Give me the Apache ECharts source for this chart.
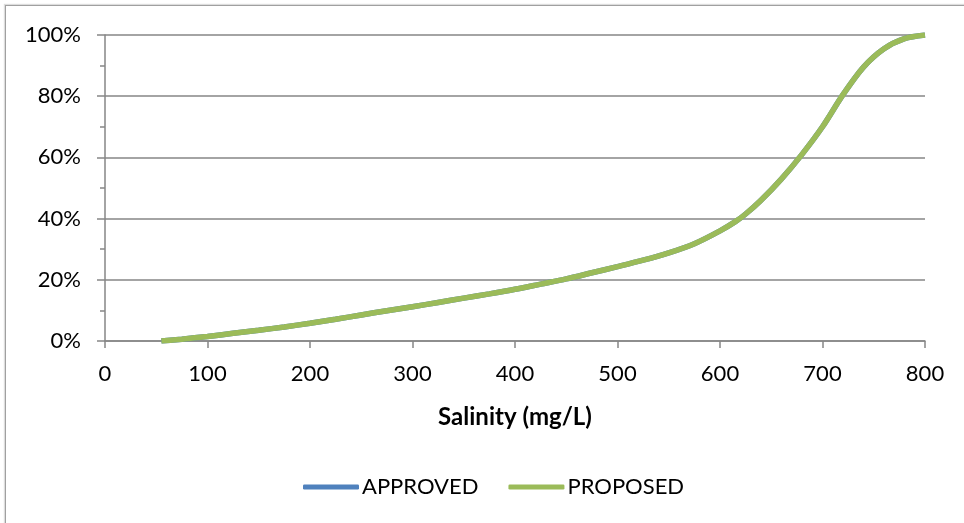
<!DOCTYPE html>
<html>
<head>
<meta charset="utf-8">
<script src="https://cdn.jsdelivr.net/npm/echarts@6/dist/echarts.min.js"></script>
<style>
  html, body { margin: 0; padding: 0; background: #fff; overflow: hidden; }
  #frame { position: absolute; left: 5px; top: 5px; width: 1000px; height: 600px;
           border-left: 1px solid #a0a0a0; border-top: 1px solid #a0a0a0; box-shadow: -1px -1px 1px #ddd; }
  #main { position: absolute; left: 0; top: 0; width: 964px; height: 523px; }
</style>
</head>
<body>
<div id="frame"></div>
<div id="main"></div>
<script>
// salinity (mg/L) vs cumulative percent
var salinity = [55, 75, 100, 125, 150, 175, 200, 225, 250, 275, 300, 325, 350, 375, 400, 425, 450, 475, 500, 525, 550, 575, 600, 615, 625, 640, 660, 680, 700, 720, 740, 760, 780, 800];
var proposed = [0, 0.6, 1.5, 2.5, 3.5, 4.6, 5.8, 7.1, 8.5, 9.9, 11.2, 12.6, 14, 15.4, 16.9, 18.6, 20.3, 22.3, 24.3, 26.4, 28.8, 31.8, 36, 39, 41.5, 46, 53, 61, 70, 80.5, 89.5, 95.5, 98.8, 100];
// approved curve sits exactly under the proposed one
var approved = proposed.slice();

var yTicks = [0, 20, 40, 60, 80, 100];

function pairs(xs, ys) {
    return xs.map(function(x, i) { return [x, ys[i]]; });
}

(function() {
    var myChart = echarts.init(document.getElementById('main'));

    var option = {
        animation: false,
        textStyle: { fontFamily: 'Lato' },
        grid: { left: 105, right: 39, top: 35, bottom: 182 },
        legend: {
            bottom: 20,
            left: 298,
            icon: 'roundRect',
            itemWidth: 56,
            itemHeight: 5,
            itemGap: 30,
            textStyle: { fontSize: 22, color: '#000', padding: [0, 0, 0, -2] },
            data: ['APPROVED', 'PROPOSED']
        },
        xAxis: {
            type: 'value',
            min: 0,
            max: 800,
            interval: 100,
            name: 'Salinity (mg/L)',
            nameLocation: 'middle',
            nameGap: 64,
            nameTextStyle: { fontSize: 24, fontWeight: 'bold', color: '#000' },
            axisLine: { show: true, lineStyle: { color: '#868686', width: 1.5 } },
            axisTick: { show: true, length: 7, lineStyle: { color: '#868686', width: 1.5 } },
            axisLabel: { fontSize: 22, color: '#000', margin: 22 },
            splitLine: { show: false }
        },
        yAxis: {
            type: 'value',
            min: 0,
            max: 100,
            interval: 20,
            axisLine: { show: true, lineStyle: { color: '#868686', width: 1.5 } },
            axisTick: { show: true, length: 8, lineStyle: { color: '#868686', width: 1.5 } },
            minorTick: { show: true, splitNumber: 2, length: 5, lineStyle: { color: '#868686', width: 1.5 } },
            axisLabel: {
                fontSize: 22, color: '#000', margin: 24,
                formatter: function(v) { return yTicks.indexOf(v) >= 0 ? v + '%' : ''; }
            },
            splitLine: { show: true, lineStyle: { color: '#868686', width: 1.5 } }
        },
        series: [{
            name: 'APPROVED',
            type: 'line',
            smooth: 0.3,
            symbol: 'none',
            itemStyle: { color: '#4F81BD' },
            lineStyle: { color: '#4F81BD', width: 5.5 },
            data: pairs(salinity, approved)
        }, {
            name: 'PROPOSED',
            type: 'line',
            smooth: 0.3,
            symbol: 'none',
            itemStyle: { color: '#9BBB59' },
            lineStyle: { color: '#9BBB59', width: 5.5 },
            data: pairs(salinity, proposed)
        }]
    };

    myChart.setOption(option);
})();
</script>
</body>
</html>
